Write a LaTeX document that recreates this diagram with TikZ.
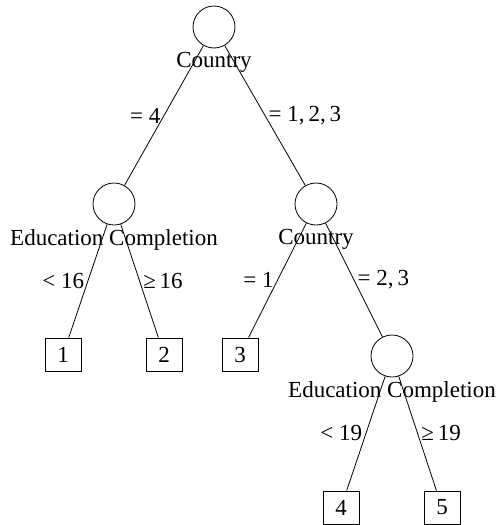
\documentclass[tikz,border=0pt]{standalone}
\usepackage{fontspec}
\setmainfont{Liberation Serif}
\tikzset{splitnode/.style={circle, draw, minimum size=42pt, inner sep=0pt},
         leafbox/.style={draw, minimum width=36pt, minimum height=33pt, inner sep=0pt}}

\begin{document}
\begin{tikzpicture}[x=1pt, y=-1pt, line width=0.8pt, font=\fontsize{23}{27}\selectfont]
\useasboundingbox (0,0) rectangle (498,525);
% splits
\node[splitnode, label=below:Country] (root) at (214,27) {};
\node[splitnode, label=below:Education Completion] (eduA) at (114,204) {};
\node[splitnode, label=below:Country] (ctry) at (316,204) {};
\node[splitnode, label=below:Education Completion] (eduB) at (392,356) {};
% leaves
\node[leafbox] (n1) at (63,354.5) {1};
\node[leafbox] (n2) at (164,354.5) {2};
\node[leafbox] (n3) at (240,354.5) {3};
\node[leafbox] (n4) at (341,507.5) {4};
\node[leafbox] (n5) at (442,507.5) {5};
% branches
\draw (root) -- node[midway, left] {= 4} (eduA);
\draw (root) -- node[midway, right] {= 1,\,2,\,3} (ctry);
\draw (eduA) -- node[midway, left] {<~16} (n1);
\draw (eduA) -- node[midway, right] {≥\,16} (n2);
\draw (ctry) -- node[midway, left] {= 1} (n3);
\draw (ctry) -- node[midway, right] {= 2,\,3} (eduB);
\draw (eduB) -- node[midway, left] {<~19} (n4);
\draw (eduB) -- node[midway, right] {≥\,19} (n5);
\end{tikzpicture}
\end{document}
